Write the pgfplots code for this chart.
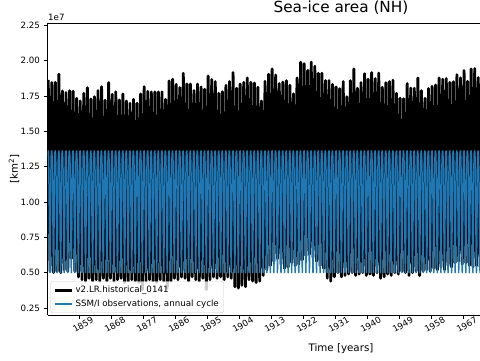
\documentclass[border=0pt]{standalone}
\usepackage{pgfplots}
\pgfplotsset{compat=1.18}
\usepackage{pgfplotstable}
\usepackage{fontspec}
\setmainfont{DejaVu Sans}
\definecolor{mplblue}{HTML}{1F77B4}
% SSM/I annual cycle (units of 1e7 km^2), month centres as fraction of year
\pgfplotstableread{
m v
0.042 1.330
0.125 1.358
0.208 1.362
0.292 1.320
0.375 1.220
0.458 1.060
0.542 0.850
0.625 0.620
0.708 0.500
0.792 0.700
0.875 0.960
0.958 1.190
1.042 1.330
}\cyc
% model: annual maximum (March) and minimum (September), units of 1e7 km^2
\pgfplotstableread{
t v
1850.21 1.865
1850.71 0.51
1851.21 1.846
1851.71 0.50
1852.21 1.848
1852.71 0.51
1853.21 1.905
1853.71 0.50
1854.21 1.787
1854.71 0.52
1855.21 1.775
1855.71 0.51
1856.21 1.789
1856.71 0.60
1857.21 1.785
1857.71 0.51
1858.21 1.735
1858.71 0.47
1859.21 1.716
1859.71 0.45
1860.21 1.770
1860.71 0.44
1861.21 1.810
1861.71 0.46
1862.21 1.730
1862.71 0.44
1863.21 1.746
1863.71 0.45
1864.21 1.789
1864.71 0.44
1865.21 1.817
1865.71 0.46
1866.21 1.721
1866.71 0.44
1867.21 1.846
1867.71 0.46
1868.21 1.763
1868.71 0.44
1869.21 1.780
1869.71 0.45
1870.21 1.723
1870.71 0.46
1871.21 1.766
1871.71 0.43
1872.21 1.716
1872.71 0.44
1873.21 1.700
1873.71 0.45
1874.21 1.728
1874.71 0.44
1875.21 1.700
1875.71 0.43
1876.21 1.766
1876.71 0.38
1877.21 1.817
1877.71 0.44
1878.21 1.785
1878.71 0.45
1879.21 1.780
1879.71 0.44
1880.21 1.780
1880.71 0.43
1881.21 1.780
1881.71 0.45
1882.21 1.780
1882.71 0.44
1883.21 1.728
1883.71 0.39
1884.21 1.858
1884.71 0.44
1885.21 1.870
1885.71 0.46
1886.21 1.834
1886.71 0.45
1887.21 1.810
1887.71 0.47
1888.21 1.912
1888.71 0.46
1889.21 1.836
1889.71 0.44
1890.21 1.836
1890.71 0.47
1891.21 1.790
1891.71 0.45
1892.21 1.836
1892.71 0.44
1893.21 1.815
1893.71 0.46
1894.21 1.799
1894.71 0.38
1895.21 1.893
1895.71 0.45
1896.21 1.867
1896.71 0.47
1897.21 1.853
1897.71 0.46
1898.21 1.770
1898.71 0.47
1899.21 1.782
1899.71 0.45
1900.21 1.827
1900.71 0.47
1901.21 1.853
1901.71 0.46
1902.21 1.917
1902.71 0.40
1903.21 1.806
1903.71 0.39
1904.21 1.836
1904.71 0.41
1905.21 1.848
1905.71 0.40
1906.21 1.879
1906.71 0.45
1907.21 1.848
1907.71 0.44
1908.21 1.843
1908.71 0.43
1909.21 1.813
1909.71 0.44
1910.21 1.716
1910.71 0.48
1911.21 1.855
1911.71 0.52
1912.21 1.905
1912.71 0.55
1913.21 1.943
1913.71 0.58
1914.21 1.900
1914.71 0.60
1915.21 1.839
1915.71 0.56
1916.21 1.850
1916.71 0.53
1917.21 1.860
1917.71 0.54
1918.21 1.827
1918.71 0.57
1919.21 1.766
1919.71 0.55
1920.21 1.879
1920.71 0.56
1921.21 1.990
1921.71 0.59
1922.21 1.980
1922.71 0.62
1923.21 1.933
1923.71 0.63
1924.21 1.992
1924.71 0.61
1925.21 1.962
1925.71 0.58
1926.21 1.912
1926.71 0.55
1927.21 1.912
1927.71 0.53
1928.21 1.860
1928.71 0.46
1929.21 1.860
1929.71 0.44
1930.21 1.834
1930.71 0.47
1931.21 1.815
1931.71 0.50
1932.21 1.803
1932.71 0.47
1933.21 1.853
1933.71 0.48
1934.21 1.746
1934.71 0.49
1935.21 1.860
1935.71 0.50
1936.21 1.943
1936.71 0.48
1937.21 1.806
1937.71 0.49
1938.21 1.846
1938.71 0.50
1939.21 1.909
1939.71 0.48
1940.21 1.870
1940.71 0.49
1941.21 1.917
1941.71 0.48
1942.21 1.874
1942.71 0.50
1943.21 1.914
1943.71 0.46
1944.21 1.813
1944.71 0.47
1945.21 1.846
1945.71 0.49
1946.21 1.853
1946.71 0.48
1947.21 1.863
1947.71 0.50
1948.21 1.770
1948.71 0.49
1949.21 1.735
1949.71 0.51
1950.21 1.732
1950.71 0.50
1951.21 1.839
1951.71 0.48
1952.21 1.808
1952.71 0.50
1953.21 1.806
1953.71 0.51
1954.21 1.879
1954.71 0.48
1955.21 1.789
1955.71 0.51
1956.21 1.735
1956.71 0.52
1957.21 1.803
1957.71 0.51
1958.21 1.820
1958.71 0.53
1959.21 1.829
1959.71 0.52
1960.21 1.879
1960.71 0.54
1961.21 1.870
1961.71 0.52
1962.21 1.874
1962.71 0.55
1963.21 1.848
1963.71 0.54
1964.21 1.853
1964.71 0.57
1965.21 1.902
1965.71 0.58
1966.21 1.879
1966.71 0.56
1967.21 1.931
1967.71 0.57
1968.21 1.855
1968.71 0.55
1969.21 1.943
1969.71 0.54
1970.21 1.945
1970.71 0.55
1971.21 1.881
1971.71 0.54
}\model

\begin{document}
\begin{tikzpicture}
\begin{axis}[
  name=ax,
  scale only axis, width=432.5pt, height=292pt,
  xmin=1850, xmax=1971.7, ymin=0.2, ymax=2.268,
  axis x line*=box, axis y line*=left,
  axis line style={black, line width=0.8pt},
  tick align=outside, xtick pos=left, ytick pos=left,
  major tick length=3.6pt,
  tick style={black, line width=0.8pt},
  xtick={1859,1868,1877,1886,1895,1904,1913,1922,1931,1940,1949,1958,1967},
  xticklabels={1859,1868,1877,1886,1895,1904,1913,1922,1931,1940,1949,1958,1967},
  ytick={0.25,0.5,0.75,1.0,1.25,1.5,1.75,2.0,2.25},
  yticklabels={0.25,0.50,0.75,1.00,1.25,1.50,1.75,2.00,2.25},
  ticklabel style={font=\fontsize{8.67}{10.4}\selectfont},
  yticklabel style={xshift=-0.5pt},
  xticklabel style={rotate=30, anchor=center, yshift=-7pt, inner sep=0pt},
  title={Sea-ice area (NH)},
  title style={at={(axis description cs:0.6786,1)}, anchor=base, yshift=4.7pt,
    font=\fontsize{15.3}{18}\selectfont},
  xlabel={Time [years]},
  xlabel style={at={(axis description cs:0.6786,0)}, anchor=base, yshift=-36pt,
    font=\fontsize{10.3}{12}\selectfont},
  ylabel={[km\textsuperscript{2}]},
  ylabel style={at={(axis description cs:-0.0775,0.5)}, anchor=center,
    font=\fontsize{10.3}{12}\selectfont},
  legend style={at={(axis description cs:0.007,0.007)}, anchor=south west,
    font=\fontsize{8.7}{10.4}\selectfont, fill=white, fill opacity=0.8,
    text opacity=1, draw=black!20, rounded corners=2pt,
    inner xsep=3pt, inner ysep=2.5pt, row sep=2pt, cells={anchor=west}},
  legend image code/.code={\draw[#1] (0pt,0pt) -- (17pt,0pt);},
]
\addplot[black, line width=2.85pt, line join=round] table[x=t, y=v]{\model};
\addlegendentry{v2.LR.historical\_0141}
\addplot[mplblue, line width=1.5pt, line join=round] table[x expr=\thisrow{m}+1850, y=v]{\cyc};
\addlegendentry{SSM/I observations, annual cycle}
\pgfplotsinvokeforeach{1851,...,1971}{
  \addplot[mplblue, line width=1.5pt, line join=round, forget plot] table[x expr=\thisrow{m}+#1, y=v]{\cyc};
}
\end{axis}
\node[anchor=base west, inner sep=0pt, font=\fontsize{8.67}{10.4}\selectfont] at ([shift={(0.5pt,2.5pt)}]ax.north west) {1e7};
\pgfresetboundingbox
\path[use as bounding box] ([shift={(-47.5pt,-45pt)}]ax.south west) rectangle ([shift={(0pt,23pt)}]ax.north east);
\end{tikzpicture}
\end{document}
